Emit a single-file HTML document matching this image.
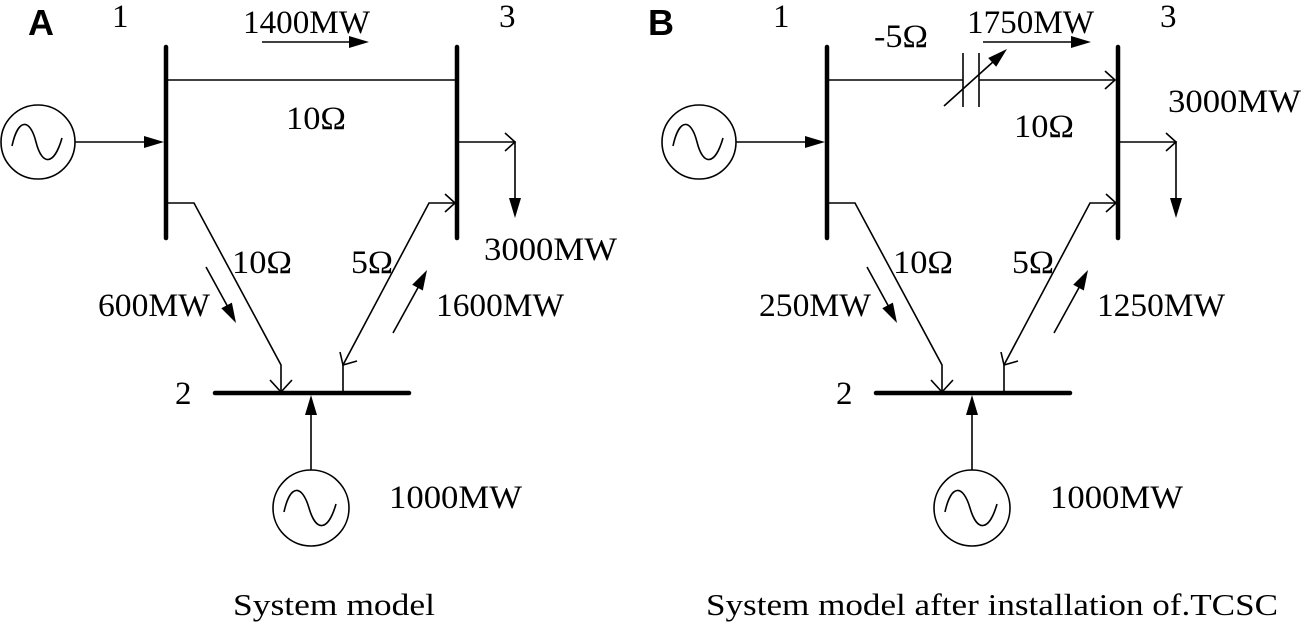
<!DOCTYPE html>
<html><head><meta charset="utf-8"><style>
html,body{margin:0;padding:0;background:#fff;width:1301px;height:629px;overflow:hidden}
svg{display:block}
text{font-family:"Liberation Serif",serif;fill:#000}
.b{font-family:"Liberation Sans",sans-serif;font-weight:bold}
</style></head><body>
<svg width="1301" height="629" viewBox="0 0 1301 629" xmlns="http://www.w3.org/2000/svg">
<defs>
<g id="common" stroke="#000" fill="none" stroke-width="1.6">
  <line x1="166" y1="47" x2="166" y2="238" stroke-width="4.5" stroke-linecap="round"/>
  <line x1="457" y1="47" x2="457" y2="238" stroke-width="4.5" stroke-linecap="round"/>
  <line x1="215" y1="393" x2="409" y2="393" stroke-width="4.5" stroke-linecap="round"/>
  <circle cx="38" cy="142" r="37"/>
  <path d="M12,146 C18,118 30,118 36,142 C42,166 54,166 62,138"/>
  <line x1="75" y1="142" x2="150" y2="142"/>
  <polygon points="164,142 144,136 144,148" fill="#000" stroke="none"/>
  <polyline points="457,142 515,142 515,205"/>
  <polyline points="505,133 515,142 505,151"/>
  <polygon points="515,218 509,198 521,198" fill="#000" stroke="none"/>
  <polyline points="166,203 194,203 281,365 281,392"/>
  <polyline points="270,380 281,392 292,380"/>
  <polyline points="343,393 343,365 429,203 455,203"/>
  <polyline points="445,194 455,203 445,212"/>
  <polyline points="340,352 343,365 357,361"/>
  <line x1="206" y1="267" x2="229" y2="309"/>
  <polygon points="236,323 221.3,308.2 231.9,302.6" fill="#000" stroke="none"/>
  <line x1="393" y1="333" x2="420" y2="284"/>
  <polygon points="427,270 422.8,290.5 412.2,284.8" fill="#000" stroke="none"/>
  <line x1="311" y1="410" x2="311" y2="470"/>
  <polygon points="311,395 305,415 317,415" fill="#000" stroke="none"/>
  <circle cx="311" cy="508" r="38"/>
  <path d="M284,512 C290,484 302,484 309,508 C316,532 328,532 336,504"/>
</g>
</defs>

<use href="#common"/>
<g stroke="#000" stroke-width="1.6" fill="none">
  <line x1="166" y1="80" x2="457" y2="80"/>
  <line x1="262" y1="42" x2="352" y2="42"/>
</g>
<polygon points="369,42 349,36 349,48" fill="#000"/>
<text class="b" x="28" y="35" font-size="36">A</text>
<text x="112" y="27" font-size="33">1</text>
<text x="499" y="27" font-size="33">3</text>
<text x="243" y="33" font-size="33" textLength="127" lengthAdjust="spacingAndGlyphs">1400MW</text>
<text x="286" y="129" font-size="33" textLength="60" lengthAdjust="spacingAndGlyphs">10Ω</text>
<text x="484" y="260" font-size="33" textLength="133" lengthAdjust="spacingAndGlyphs">3000MW</text>
<text x="232" y="273" font-size="33" textLength="60" lengthAdjust="spacingAndGlyphs">10Ω</text>
<text x="351" y="273" font-size="33" textLength="42" lengthAdjust="spacingAndGlyphs">5Ω</text>
<text x="98" y="316" font-size="33" textLength="112" lengthAdjust="spacingAndGlyphs">600MW</text>
<text x="436" y="316" font-size="33" textLength="128" lengthAdjust="spacingAndGlyphs">1600MW</text>
<text x="175" y="404" font-size="33">2</text>
<text x="389" y="508" font-size="33" textLength="133" lengthAdjust="spacingAndGlyphs">1000MW</text>
<text x="233" y="615" font-size="31" textLength="202" lengthAdjust="spacingAndGlyphs">System model</text>

<use href="#common" transform="translate(661,0)"/>
<g stroke="#000" stroke-width="1.6" fill="none">
  <line x1="827" y1="80" x2="963" y2="80"/>
  <line x1="979" y1="80" x2="1115" y2="80"/>
  <polyline points="1105,71 1115,80 1105,89"/>
  <line x1="963" y1="53" x2="963" y2="107"/>
  <line x1="979" y1="53" x2="979" y2="107"/>
  <line x1="944" y1="106" x2="994" y2="61"/>
  <line x1="983" y1="42" x2="1074" y2="42"/>
</g>
<polygon points="1007,49 996.2,66.8 988.2,58" fill="#000"/>
<polygon points="1091,42 1071,36 1071,48" fill="#000"/>
<text class="b" x="648" y="35" font-size="36">B</text>
<text x="773" y="27" font-size="33">1</text>
<text x="1160" y="27" font-size="33">3</text>
<text x="874" y="47" font-size="33" textLength="54" lengthAdjust="spacingAndGlyphs">-5Ω</text>
<text x="967" y="33" font-size="33" textLength="127" lengthAdjust="spacingAndGlyphs">1750MW</text>
<text x="1014" y="137" font-size="33" textLength="60" lengthAdjust="spacingAndGlyphs">10Ω</text>
<text x="1168" y="112" font-size="33" textLength="133" lengthAdjust="spacingAndGlyphs">3000MW</text>
<text x="893" y="273" font-size="33" textLength="60" lengthAdjust="spacingAndGlyphs">10Ω</text>
<text x="1012" y="273" font-size="33" textLength="42" lengthAdjust="spacingAndGlyphs">5Ω</text>
<text x="759" y="316" font-size="33" textLength="112" lengthAdjust="spacingAndGlyphs">250MW</text>
<text x="1097" y="316" font-size="33" textLength="128" lengthAdjust="spacingAndGlyphs">1250MW</text>
<text x="836" y="404" font-size="33">2</text>
<text x="1050" y="508" font-size="33" textLength="133" lengthAdjust="spacingAndGlyphs">1000MW</text>
<text x="706" y="615" font-size="31" textLength="572" lengthAdjust="spacingAndGlyphs">System model after installation of.TCSC</text>
</svg>
</body></html>
